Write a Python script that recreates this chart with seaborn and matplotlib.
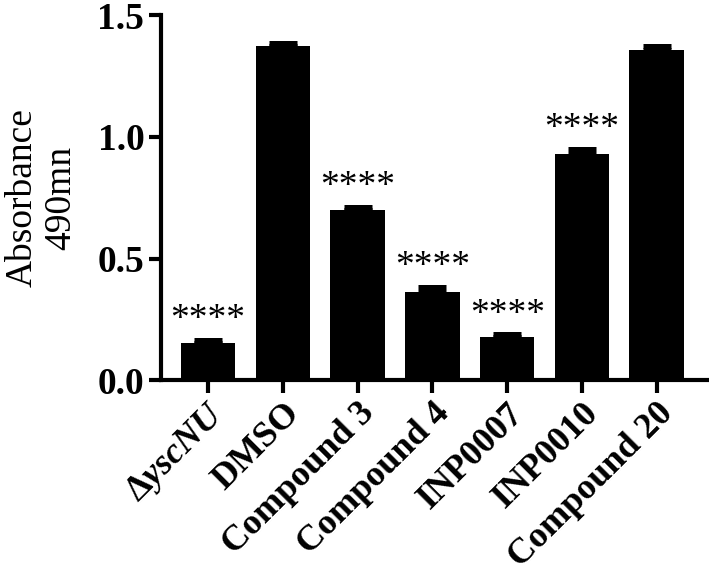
import numpy as np
import pandas as pd
import matplotlib
matplotlib.use("Agg")
import matplotlib.pyplot as plt
import seaborn as sns

groups = [r"$\Delta\mathbfit{yscNU}$", "DMSO", "Compound 3", "Compound 4",
          "INP0007", "INP0010", "Compound 20"]
absorbance = [0.152, 1.372, 0.700, 0.363, 0.178, 0.930, 1.358]
sem = [0.012, 0.015, 0.012, 0.020, 0.010, 0.022, 0.015]
stars = ["****", "", "****", "****", "****", "****", ""]

df = pd.DataFrame({"group": groups, "absorbance": absorbance})

serif = "Liberation Serif"
sns.set_style("ticks", {"axes.edgecolor": "black", "text.color": "black",
                        "axes.labelcolor": "black", "xtick.color": "black",
                        "ytick.color": "black"})
plt.rcParams["font.family"] = "serif"
plt.rcParams["font.serif"] = [serif]
plt.rcParams["mathtext.fontset"] = "custom"
plt.rcParams["mathtext.rm"] = "Liberation Serif:bold"
plt.rcParams["mathtext.bf"] = "Liberation Serif:bold"
plt.rcParams["mathtext.it"] = "Liberation Serif:italic:bold"
plt.rcParams["mathtext.bfit"] = "Liberation Serif:italic:bold"

fig = plt.figure(figsize=(7.09, 5.65), dpi=100)
ax = fig.add_axes([0.227, 0.327, 0.77, 0.646])

sns.barplot(data=df, x="group", y="absorbance", color="black", width=0.73,
            errorbar=None, saturation=1, edgecolor="none", ax=ax)

x = np.arange(len(groups))
ax.errorbar(x, absorbance, yerr=[np.zeros(len(sem)), sem], fmt="none",
            ecolor="black", elinewidth=3, capsize=10.4, capthick=3.6)

for xi, v, e, s in zip(x, absorbance, sem, stars):
    if s:
        ax.text(xi, v + e + 0.083, s, ha="center", va="center", fontsize=27,
                family=serif, color="black")

ax.set_xlim(-0.63, 6.67)
ax.set_ylim(0, 1.5)
ax.set_yticks([0.0, 0.5, 1.0, 1.5])
ax.set_yticklabels(["0.0", "0.5", "1.0", "1.5"], fontsize=27,
                   fontweight="bold", family=serif)
ax.set_xticks(x)
ax.set_xticklabels(groups, fontsize=26, fontweight="bold", rotation=45,
                   ha="right", rotation_mode="anchor", family=serif)
ax.set_xlabel("")
ax.set_ylabel("Absorbance\n490mn", fontsize=27, linespacing=1.15,
              family=serif)
ax.yaxis.set_label_coords(-0.152, 0.5)

sns.despine(ax=ax)
for side in ["left", "bottom"]:
    ax.spines[side].set_linewidth(3)
    ax.spines[side].set_color("black")
ax.tick_params(width=3, length=9, pad=3, colors="black")

fig.savefig("out.png", dpi=100)
